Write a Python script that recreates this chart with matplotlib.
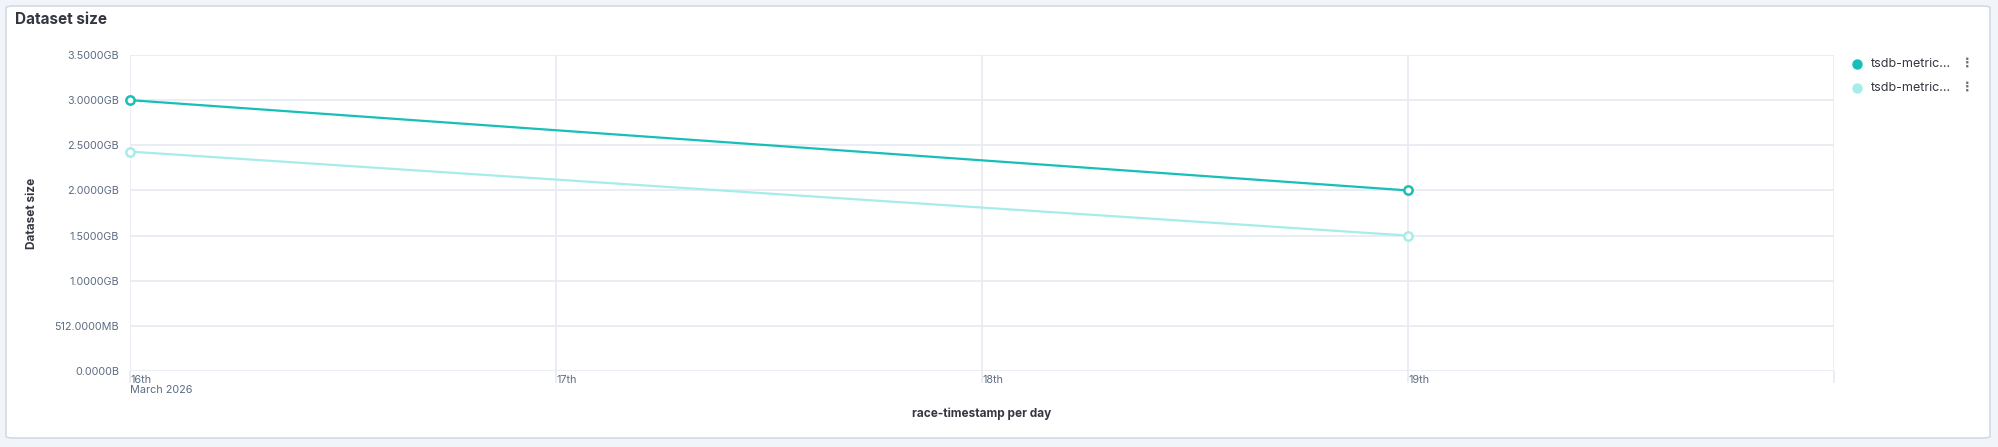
import datetime as dt
import matplotlib
matplotlib.use("Agg")
import matplotlib.pyplot as plt
from matplotlib.patches import FancyBboxPatch
from matplotlib.lines import Line2D

plt.rcParams["font.family"] = ["Inter", "DejaVu Sans"]

GB = 2 ** 30
MB = 2 ** 20

# data
days = [dt.datetime(2026, 3, 16), dt.datetime(2026, 3, 19)]
series_names = ["tsdb-metric...", "tsdb-metric..."]
series_a = [3.0 * GB, 2.0 * GB]
series_b = [2.43 * GB, 1.5 * GB]
colors = ["#17BFB9", "#A6EDEA"]

tick_days = [dt.datetime(2026, 3, d) for d in (16, 17, 18, 19, 20)]
tick_labels = ["16th\nMarch 2026", "17th", "18th", "19th", ""]
y_ticks = [0, 512 * MB, 1 * GB, 1.5 * GB, 2 * GB, 2.5 * GB, 3 * GB, 3.5 * GB]
y_labels = ["0.0000B", "512.0000MB", "1.0000GB", "1.5000GB",
            "2.0000GB", "2.5000GB", "3.0000GB", "3.5000GB"]

W, H = 1999, 447
fig = plt.figure(figsize=(W / 100, H / 100), dpi=100)
fig.patch.set_facecolor("#F1F4F9")

# white panel card
card = FancyBboxPatch((6 / W, (H - 438) / H), (1990 - 6) / W, (438 - 6) / H,
                      boxstyle="round,pad=0,rounding_size=0.004",
                      transform=fig.transFigure, facecolor="white",
                      edgecolor="#D3DAE6", linewidth=1.2, zorder=0)
fig.add_artist(card)

ax = fig.add_axes([130 / W, (H - 371) / H, (1834 - 130) / W, (371 - 55) / H])
ax.set_facecolor("none")

grid_c = "#E6EBF2"
tick_c = "#5E6C84"
text_c = "#343741"

for vals, c in zip([series_b, series_a], [colors[1], colors[0]]):
    ax.plot(days, vals, color=c, lw=1.6, marker="o", ms=6,
            mfc="white", mec=c, mew=1.8, zorder=3, clip_on=False)

ax.set_xlim(tick_days[0], tick_days[-1])
ax.set_ylim(0, 3.5 * GB)
ax.set_xticks(tick_days)
ax.set_xticklabels(tick_labels, ha="left", linespacing=1.0)
ax.set_yticks(y_ticks)
ax.set_yticklabels(y_labels)

ax.grid(True, color=grid_c, lw=1.2)
for s in ax.spines.values():
    s.set_visible(False)

ax.tick_params(axis="x", length=8.6, width=1.2, color=grid_c, pad=-5.6,
               labelsize=7.8, labelcolor=tick_c)
ax.tick_params(axis="y", length=0, pad=8, labelsize=7.8, labelcolor=tick_c)

ax.set_xlabel("race-timestamp per day", fontsize=8.5, fontweight="bold",
              color=text_c)
ax.set_ylabel("Dataset size", fontsize=8.5, fontweight="bold",
              color=text_c)
ax.yaxis.set_label_coords(-(130 - 38) / (1834 - 130), 0.5)
ax.xaxis.set_label_coords(0.5, -(407 - 371) / (371 - 55))

fig.text(15 / W, 1 - 19 / H, "Dataset size", fontsize=11, fontweight="bold",
         color=text_c, va="center", ha="left")

# legend
for i, (name, c) in enumerate(zip(series_names, colors)):
    yy = 1 - (64 + 24 * i) / H
    fig.add_artist(Line2D([1857 / W], [yy], marker="o", ms=6.5, color=c,
                          mec=c, transform=fig.transFigure, lw=0))
    fig.text(1871 / W, yy, name, fontsize=9, color=text_c,
             va="center", ha="left")
    fig.text(1967 / W, yy, "\u22ee", fontsize=9, color="#69707D",
             va="center", ha="center", fontweight="bold")

fig.savefig("out.png", dpi=100, facecolor=fig.get_facecolor())
